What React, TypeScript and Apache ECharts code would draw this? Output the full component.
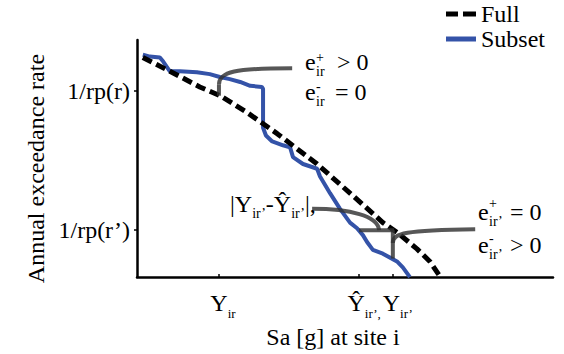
import React, { useEffect, useRef } from "react";
import * as echarts from "echarts";

const FONT = "Liberation Serif";

// Full hazard curve (Sa, annual rate) in arbitrary units
const fullSa = [0.14, 0.79, 1.51, 2.0, 2.64, 3.37, 4.33, 5.12, 5.91, 6.25, 6.73, 7.04, 7.28];
const fullRate = [9.26, 8.68, 8.02, 7.65, 6.95, 6.05, 4.77, 3.54, 2.3, 1.89, 1.19, 0.66, 0.04];

// Subset hazard curve
const subsetSa = [
  0.14, 0.31, 0.55, 0.63, 0.79, 1.03, 1.44, 1.75, 1.99, 2.23, 2.48, 2.72, 3.0, 3.03, 3.03, 3.1, 3.25,
  3.51, 3.68, 3.75, 3.99, 4.33, 4.4, 4.64, 4.88, 5.12, 5.29, 5.43, 5.53, 5.67, 5.91, 6.25, 6.39, 6.56,
];
const subsetRate = [
  9.38, 9.3, 9.26, 9.09, 8.68, 8.68, 8.64, 8.56, 8.44, 8.35, 8.23, 8.07, 8.02, 7.94, 6.3, 5.97, 5.72,
  5.56, 5.47, 5.06, 4.77, 4.57, 4.24, 3.54, 2.88, 2.3, 2.06, 1.77, 1.48, 1.15, 0.99, 0.66, 0.41, 0.0,
];

// Axis ticks
const rateTicks = [7.85, 1.98];
const rateTickLabels = ["1/rp(r)", "1/rp(r’)"];
const saTicks = [1.97, 5.34, 6.15];
const saTickMain = ["Y", "Ŷ", "Y"];
const saTickSub = ["ir", "ir’,", "ir’"];

const GREY = "rgba(50,50,50,0.82)";

function closestIndex(arr: number[], v: number) {
  let best = 0;
  for (let i = 1; i < arr.length; i++) if (Math.abs(arr[i] - v) < Math.abs(arr[best] - v)) best = i;
  return best;
}

export default function App() {
  const ref = useRef<HTMLDivElement>(null);
  useEffect(() => {
    document.body.style.margin = "0";
    const chart = echarts.init(ref.current!, null, { renderer: "svg", width: 564, height: 354 });
    const mainTok = { fontFamily: FONT, fontSize: 24, lineHeight: 24, verticalAlign: "top", color: "#000" };
    const subTok = { fontFamily: FONT, fontSize: 13, lineHeight: 13, verticalAlign: "top", padding: [16, 0, 0, 0], color: "#000" };
    const labelRich = {
      m0: { ...mainTok, padding: [0, 0, 0, 8] },
      m1: { ...mainTok, padding: [0, 0, 0, 10] },
      m2: { ...mainTok, padding: [0, 0, 0, 10] },
      s: subTok,
    };
    const fmt = (v: number) => {
      const i = closestIndex(saTicks, v);
      return `{m${i}|${saTickMain[i]}}{s|${saTickSub[i]}}`;
    };
    const option: any = {
      animation: false,
      backgroundColor: "#ffffff",
      textStyle: { fontFamily: FONT },
      grid: { left: 137, right: 11, top: 40, bottom: 71, containLabel: false },
      legend: {
        orient: "vertical",
        right: 14,
        top: -3,
        itemGap: 1,
        itemWidth: 30,
        itemHeight: 5,
        align: "left",
        itemStyle: { borderWidth: 0 },
        textStyle: { fontFamily: FONT, fontSize: 24, color: "#000" },
        data: [
          { name: "Full", icon: "path://M0,0h12v5h-12z M17,0h13v5h-13z" },
          { name: "Subset", icon: "path://M0,0h30v5h-30z" },
        ],
      },
      xAxis: [
        {
          type: "value",
          position: "bottom",
          min: 0,
          max: 10,
          name: "Sa [g] at site i",
          nameLocation: "middle",
          nameGap: 38,
          nameTextStyle: { fontFamily: FONT, fontSize: 24, color: "#000", padding: [0, 24, 0, 0] },
          axisLine: { show: true, onZero: false, lineStyle: { color: "#000", width: 2.5 } },
          axisTick: { show: true, inside: true, length: 3, customValues: saTicks, lineStyle: { color: "#000", width: 1.5 } },
          axisLabel: {
            show: true,
            customValues: saTicks.slice(0, 2),
            hideOverlap: false,
            margin: 14,
            formatter: fmt,
            rich: labelRich,
          },
          splitLine: { show: false },
        },
        {
          type: "value",
          position: "bottom",
          offset: 0,
          min: 0,
          max: 10,
          axisLine: { show: false },
          axisTick: { show: false },
          axisLabel: {
            show: true,
            customValues: saTicks.slice(2),
            hideOverlap: false,
            margin: 14,
            formatter: fmt,
            rich: labelRich,
          },
          splitLine: { show: false },
        },
      ],
      yAxis: {
        type: "value",
        min: 0,
        max: 10,
        name: "Annual exceedance rate",
        nameLocation: "middle",
        nameGap: 88,
        nameRotate: 90,
        nameTextStyle: { fontFamily: FONT, fontSize: 24, color: "#000", padding: [0, 20, 0, 0] },
        axisLine: { show: true, onZero: false, lineStyle: { color: "#000", width: 2.5 } },
        axisTick: { show: true, length: 3, customValues: rateTicks, lineStyle: { color: "#000", width: 1.5 } },
        axisLabel: {
          show: true,
          customValues: rateTicks,
          margin: 7,
          fontFamily: FONT,
          fontSize: 24,
          color: "#000",
          formatter: (v: number) => rateTickLabels[closestIndex(rateTicks, v)],
        },
        splitLine: { show: false },
      },
      series: [
        {
          name: "Full",
          type: "line",
          xAxisIndex: 0,
          data: fullSa.map((x, i) => [x, fullRate[i]]),
          symbol: "none",
          smooth: false,
          lineStyle: { color: "#000", width: 5, type: [10, 5] },
          itemStyle: { color: "#000" },
          z: 3,
        },
        {
          name: "Subset",
          type: "line",
          xAxisIndex: 0,
          data: subsetSa.map((x, i) => [x, subsetRate[i]]),
          symbol: "none",
          lineStyle: { color: "#3453a8", width: 4 },
          itemStyle: { color: "#3453a8" },
          z: 2,
        },
      ],
    };
    chart.setOption(option);

    const p = (x: number, y: number) => chart.convertToPixel({ xAxisIndex: 0, yAxisIndex: 0 }, [x, y]) as number[];
    const line = (a: number[], b: number[]) => ({
      type: "line",
      z: 10,
      shape: { x1: a[0], y1: a[1], x2: b[0], y2: b[1] },
      style: { stroke: GREY, lineWidth: 4 },
    });
    const bez = (a: number[], c1: number[], c2: number[], b: number[]) => ({
      type: "bezierCurve",
      z: 10,
      shape: { x1: a[0], y1: a[1], cpx1: c1[0], cpy1: c1[1], cpx2: c2[0], cpy2: c2[1], x2: b[0], y2: b[1] },
      style: { stroke: GREY, lineWidth: 4, fill: null },
    });
    const annRich = {
      m: { fontFamily: FONT, fontSize: 24, lineHeight: 24, verticalAlign: "top", fill: "#000" },
      s: { fontFamily: FONT, fontSize: 14, lineHeight: 14, verticalAlign: "top", padding: [14, 0, 0, 0], fill: "#000" },
    };
    const rtext = (x: number, y: number, text: string) => ({
      type: "text",
      z: 11,
      x,
      y,
      style: { text, rich: annRich, align: "left", verticalAlign: "top", fontFamily: FONT, fontSize: 24, fill: "#000" },
    });
    const t = (x: number, y: number, text: string, size: number) => ({
      type: "text",
      z: 11,
      x,
      y,
      style: { text, fontFamily: FONT, fontSize: size, fill: "#000", align: "left", verticalAlign: "middle" },
    });
    // e label with stacked super/subscript; baseline-based placement
    const eLabel = (x: number, base: number, sup: string, sub: string, rest: string, restX: number, supDy: number) => [
      t(x, base - 8, "e", 24),
      t(x + 11, base - supDy, sup, 14),
      t(x + 11, base + 1, sub, 14),
      t(restX, base - 8, rest, 24),
    ];

    const graphic = [
      // e_ir at rate r
      line(p(1.97, 7.65), p(1.97, 8.11)),
      bez(p(1.97, 8.11), p(1.97, 8.68), p(2.36, 8.81), p(3.73, 8.81)),
      // |Y - Y^| bracket
      line(p(5.34, 1.98), p(6.18, 1.98)),
      line(p(6.15, 1.98), p(6.15, 0.78)),
      bez(p(4.21, 2.88), p(5.12, 2.88), p(5.79, 2.59), p(5.82, 1.98)),
      // e_ir' bracket
      bez(p(6.15, 1.44), p(6.15, 1.85), p(6.44, 1.98), p(8.13, 2.02)),
      ...eLabel(305, 70, "+", "ir", "> 0", 337, 13),
      ...eLabel(305, 100, "-", "ir", "= 0", 335, 14),
      ...eLabel(478, 220, "+", "ir’", "= 0", 510, 17),
      ...eLabel(478, 253, "-", "ir’", "> 0", 510, 15),
      rtext(230, 192, "{m||Y}{s|ir’}{m|-Ŷ}{s|ir’}{m||,}"),
    ];
    chart.setOption({ graphic });
    return () => chart.dispose();
  }, []);
  return <div ref={ref} style={{ width: 564, height: 354 }} />;
}
